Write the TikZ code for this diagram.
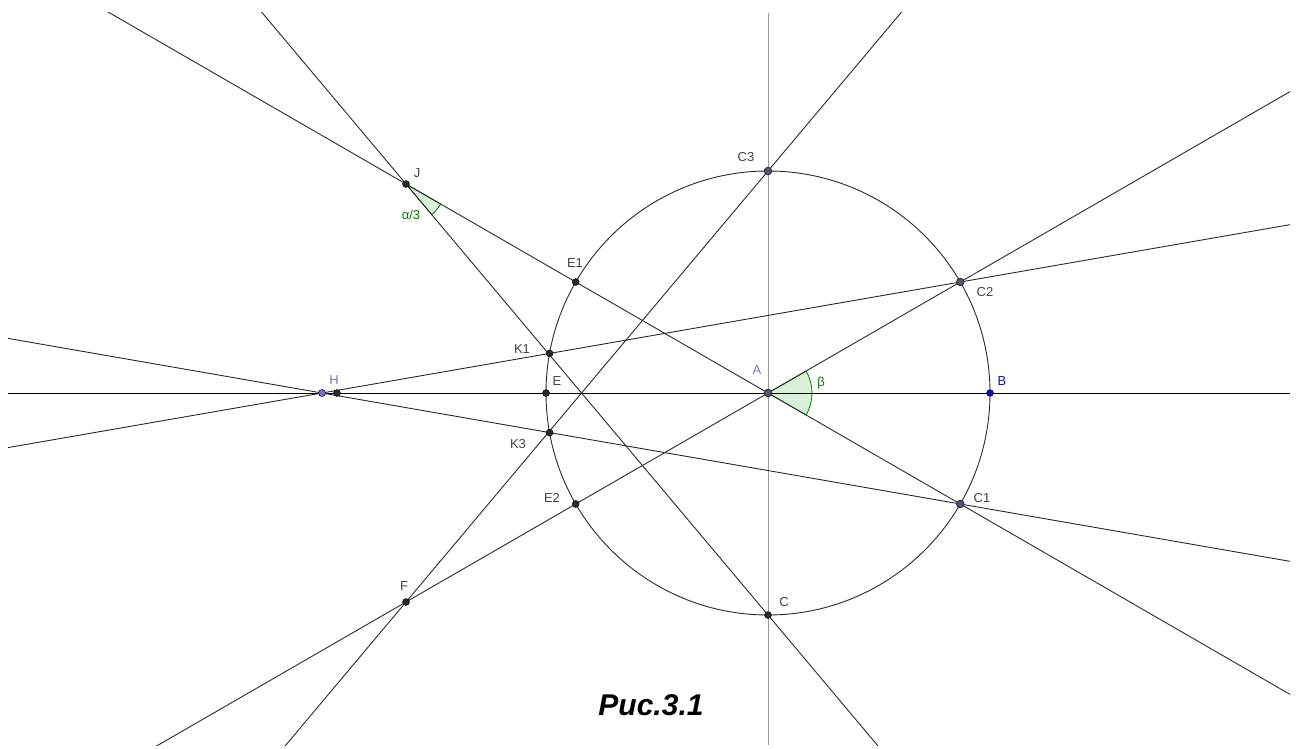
\documentclass[tikz,border=0pt]{standalone}
\usepackage{fontspec}
\setmainfont{Liberation Sans}
\usetikzlibrary{calc}
\definecolor{ln}{HTML}{2A2A2A}
\definecolor{vln}{HTML}{9A9A9A}
\definecolor{lbl}{HTML}{444444}
\definecolor{ang}{HTML}{007A00}
\definecolor{angfill}{HTML}{D8F0D8}
\definecolor{ptblue}{HTML}{1010A0}
\definecolor{ptgrey}{HTML}{555577}
\definecolor{albl}{HTML}{7777BB}
\tikzset{
  geo/.style={draw=ln, line width=0.9pt},
  dotpt/.style={circle, fill=ln, draw=black, line width=0.4pt, inner sep=0pt, minimum size=7pt},
  mainpt/.style={circle, fill=ptgrey, draw=ptgrey!50!black, line width=0.9pt, inner sep=0pt, minimum size=7.5pt},
  bluept/.style={circle, fill=ptblue, draw=ptblue!70!black, inner sep=0pt, minimum size=7pt},
  hpt/.style={circle, fill=albl, draw=ptblue!70!black, line width=0.6pt, inner sep=0pt, minimum size=7pt},
  lab/.style={font=\fontsize{13}{15}\selectfont, text=lbl, inner sep=0pt},
  anglab/.style={font=\fontsize{13}{15}\selectfont, text=ang, inner sep=0pt},
  angsec/.style={fill=angfill, draw=ang, line width=0.8pt}
}
\begin{document}
\begin{tikzpicture}[x=1pt,y=-1pt]
\useasboundingbox (0,0) rectangle (1296,749);
% points
\coordinate (A) at (768,393);
\coordinate (B) at (990,393);
\coordinate (C) at (768,615);
\coordinate (C3) at (768,171);
\coordinate (C2) at (960.3,282);
\coordinate (C1) at (960.3,504);
\coordinate (E1) at (575.7,282);
\coordinate (E2) at (575.7,504);
\coordinate (E) at (546,393);
\coordinate (K1) at (549.6,353.4);
\coordinate (K3) at (549.6,432.6);
\coordinate (J) at (406,184);
\coordinate (F) at (406,602);
\coordinate (H) at (322,393);
\coordinate (Hb) at (337,393);
\coordinate (L) at (8,393);
\coordinate (R) at (1290,393);
\coordinate (T) at (768,13);
\coordinate (Bt) at (768,745);
% angle sectors
\filldraw[angsec] (A) -- +(-30:44) arc[start angle=-30, end angle=30, radius=44] -- cycle;
\filldraw[angsec] (J) -- +(30:40) arc[start angle=30, end angle=50, radius=40] -- cycle;
% lines
\begin{scope}
\clip (8,13) rectangle (1290,745);
\draw[draw=vln, line width=1pt] (T) -- (Bt);
\draw[draw=black, line width=1pt] (L) -- (R);
\draw[geo] ($(J)!-2!(C)$) -- ($(J)!3!(C)$);
\draw[geo] ($(F)!-2!(C3)$) -- ($(F)!3!(C3)$);
\draw[geo] ($(J)!-2!(A)$) -- ($(J)!3!(A)$);
\draw[geo] ($(F)!-2!(A)$) -- ($(F)!3!(A)$);
\draw[geo] ($(H)!-2!(C2)$) -- ($(H)!3!(C2)$);
\draw[geo] ($(H)!-2!(C1)$) -- ($(H)!3!(C1)$);
\end{scope}
\draw[geo] (A) circle[radius=222];
% point markers
\foreach \p in {J,F,E1,E2,E,K1,K3,C,Hb}{\node[dotpt] (d\p) at (\p) {};}
\foreach \p in {A,C3,C2,C1}{\node[mainpt] (d\p) at (\p) {};}
\node[bluept] (dB) at (B) {};
\node[hpt] (dH) at (H) {};
% labels
\node[lab] (lJ) at (417,173) {J};
\node[lab] (lC3) at (746,157) {C3};
\node[lab] (lE1) at (575,263) {E1};
\node[lab] (lC2) at (985,292) {C2};
\node[lab] (lK1) at (522,349) {K1};
\node[lab] (lE) at (557,381) {E};
\node[lab, text=albl] (lH) at (334,380) {H};
\node[lab, text=albl] (lA) at (757,370) {A};
\node[anglab] (lbeta) at (821,383) {β};
\node[lab, text=ptblue] (lB) at (1002,381) {B};
\node[lab] (lK3) at (518,444) {K3};
\node[lab] (lE2) at (552,498) {E2};
\node[lab] (lC1) at (982,498) {C1};
\node[lab] (lF) at (404,586) {F};
\node[lab] (lC) at (784,602) {C};
\node[anglab] (lalpha) at (411,215) {α/3};
\node[font=\fontsize{30}{36}\selectfont\bfseries\itshape, text=black] (cap) at (651,705) {Рис.3.1};
\end{tikzpicture}
\end{document}
